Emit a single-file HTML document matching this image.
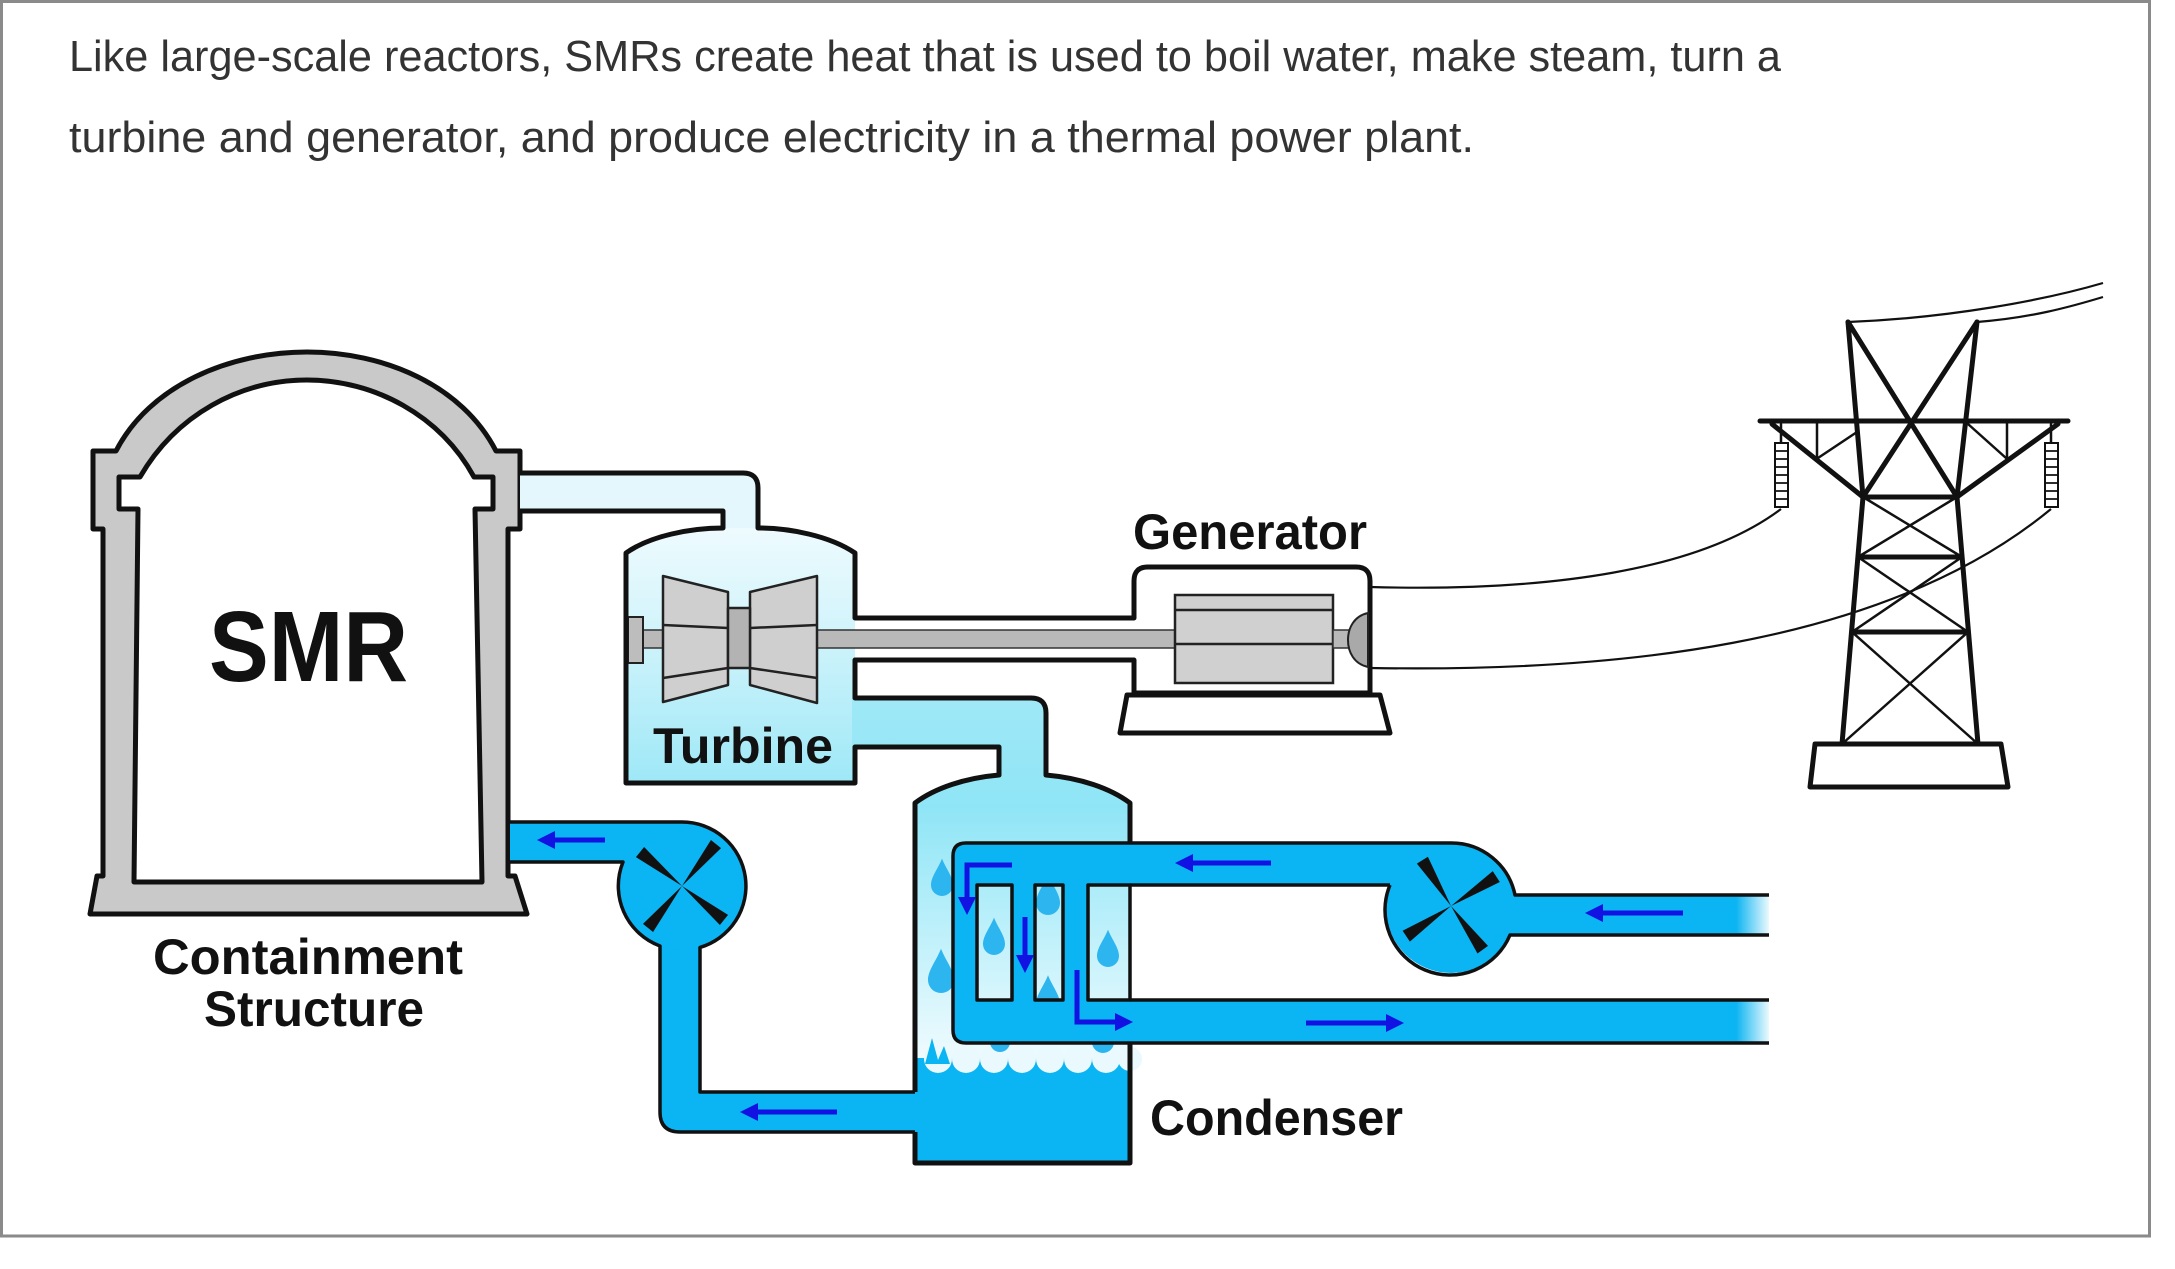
<!DOCTYPE html>
<html>
<head>
<meta charset="utf-8">
<style>
  html, body { margin: 0; padding: 0; background: #ffffff; }
  body { width: 2175px; height: 1269px; overflow: hidden; }
  svg { display: block; }
  .lbl { font-family: "Liberation Sans", "DejaVu Sans", sans-serif; font-weight: bold; fill: #111; }
  .desc { font-family: "Liberation Sans", "DejaVu Sans", sans-serif; font-weight: normal; fill: #333; }
</style>
</head>
<body>
<svg width="2175" height="1269" viewBox="0 0 2175 1269" xmlns="http://www.w3.org/2000/svg">
  <defs>
    <linearGradient id="tg" x1="0" y1="528" x2="0" y2="783" gradientUnits="userSpaceOnUse">
      <stop offset="0" stop-color="#eefbfe"/>
      <stop offset="0.4" stop-color="#d2f4fb"/>
      <stop offset="1" stop-color="#9ee8f7"/>
    </linearGradient>
    <linearGradient id="cg" x1="0" y1="698" x2="0" y2="1062" gradientUnits="userSpaceOnUse">
      <stop offset="0" stop-color="#9fe8f7"/>
      <stop offset="0.3" stop-color="#8fe5f6"/>
      <stop offset="0.6" stop-color="#b8effa"/>
      <stop offset="1" stop-color="#f0fbfe"/>
    </linearGradient>
    <linearGradient id="fade" x1="1736" y1="0" x2="1772" y2="0" gradientUnits="userSpaceOnUse">
      <stop offset="0" stop-color="#ffffff" stop-opacity="0"/>
      <stop offset="1" stop-color="#ffffff" stop-opacity="1"/>
    </linearGradient>
    <path id="drop" d="M0,-2.4 C0.35,-1.5 1,-0.75 1,0 A1 1 0 0 1 -1,0 C-1,-0.75 -0.35,-1.5 0,-2.4 Z"/>
    <path id="blade" d="M0,0 L54,-6.5 L54,6.5 Z"/>
  </defs>

  <rect x="0" y="0" width="2175" height="1269" fill="#ffffff"/>
  <!-- frame -->
  <rect x="1.5" y="1.5" width="2148" height="1234.5" fill="none" stroke="#8a8a8a" stroke-width="3"/>

  <!-- description -->
  <text class="desc" x="69" y="71" font-size="44" textLength="1712" lengthAdjust="spacingAndGlyphs">Like large-scale reactors, SMRs create heat that is used to boil water, make steam, turn a</text>
  <text class="desc" x="69" y="152" font-size="44" textLength="1405" lengthAdjust="spacingAndGlyphs">turbine and generator, and produce electricity in a thermal power plant.</text>

  <!-- ===== Containment ===== -->
  <path d="M93,451 L116,451 C150,385 230,352 307,352 C384,352 462,385 496,451 L520,451 L520,529 L508,529 L508,876 L515,876 L527,914 L90,914 L97,876 L103,876 L103,529 L93,529 Z"
        fill="#c9c9c9" stroke="#111" stroke-width="5" stroke-linejoin="round"/>
  <path d="M138,509 L119,509 L119,477 L140,477 C176,415 240,380 307,380 C374,380 440,415 474,477 L493,477 L493,509 L475,509 L482,882 L134,882 Z"
        fill="#ffffff" stroke="#111" stroke-width="5" stroke-linejoin="round"/>
  <text class="lbl" x="209" y="681" font-size="100" textLength="199" lengthAdjust="spacingAndGlyphs">SMR</text>
  <text class="lbl" x="153" y="974" font-size="50" textLength="310" lengthAdjust="spacingAndGlyphs">Containment</text>
  <text class="lbl" x="204" y="1026" font-size="50" textLength="220" lengthAdjust="spacingAndGlyphs">Structure</text>

  <!-- ===== Steam pipe & turbine casing fills ===== -->
  <path d="M520,473 L743,473 Q758,473 758,488 L758,532 L723,532 L723,511 L520,511 Z" fill="#e3f7fc"/>
  <path d="M626,553 C650,536 690,528 723,528 L758,528 C790,528 830,536 855,553 L855,783 L626,783 Z" fill="url(#tg)"/>
  <!-- pipe turbine->condenser + condenser fill -->
  <path d="M852,698 L1031,698 Q1046,698 1046,713 L1046,775 C1080,778 1110,788 1130,803 L1130,1163 L915,1163 L915,803 C935,788 965,778 999,775 L999,747 L852,747 Z" fill="url(#cg)"/>

  <!-- water in condenser -->
  <rect x="915" y="1058" width="215" height="105" fill="#0bb4f2"/>
  <g fill="#e9f9fd">
    <circle cx="938" cy="1059" r="14"/>
    <circle cx="966" cy="1059" r="14"/>
    <circle cx="994" cy="1059" r="14"/>
    <circle cx="1022" cy="1059" r="14"/>
    <circle cx="1050" cy="1059" r="14"/>
    <circle cx="1078" cy="1059" r="14"/>
    <circle cx="1106" cy="1059" r="14"/>
    <circle cx="1130" cy="1059" r="12"/>
  </g>
  <path d="M925,1064 L932,1038 L938,1060 L944,1046 L950,1064 Z" fill="#0bb4f2"/>

  <!-- drops -->
  <g fill="#2db5ef">
    <use href="#drop" transform="translate(942,885) scale(11)"/>
    <use href="#drop" transform="translate(941,980) scale(13)"/>
    <use href="#drop" transform="translate(994,944) scale(11)"/>
    <use href="#drop" transform="translate(1048,903) scale(12)"/>
    <use href="#drop" transform="translate(1048,1004) scale(12)"/>
    <use href="#drop" transform="translate(1108,956) scale(11)"/>
    <use href="#drop" transform="translate(1000,1042) scale(10)"/>
    <use href="#drop" transform="translate(1103,1042) scale(11)"/>
  </g>

  <!-- ===== Left primary loop (blue) ===== -->
  <path d="M510,822 L682,822 A64 64 0 0 1 700,947.4 L700,1092 L920,1092 L920,1132 L680,1132 Q660,1132 660,1112 L660,946 A64 64 0 0 1 623,862 L510,862 Z" fill="#0bb4f2"/>
  <circle cx="682" cy="886" r="64" fill="#0bb4f2"/>
  <g fill="none" stroke="#111" stroke-width="3.5" stroke-linejoin="round">
    <path d="M510,822 L682,822 A64 64 0 0 1 700,947.4 L700,1092 L915,1092"/>
    <path d="M915,1132 L680,1132 Q660,1132 660,1112 L660,946 A64 64 0 0 1 623,862 L510,862"/>
  </g>
  <g fill="#111">
    <use href="#blade" transform="translate(682,886) rotate(39)"/>
    <use href="#blade" transform="translate(682,886) rotate(129)"/>
    <use href="#blade" transform="translate(682,886) rotate(219)"/>
    <use href="#blade" transform="translate(682,886) rotate(309)"/>
  </g>

  <!-- ===== Cooling loop (right) ===== -->
  <path d="M966,843 L1451,843 L1451,885 L977,885 L977,1000 L1769,1000 L1769,1043 L966,1043 Q953,1043 953,1030 L953,856 Q953,843 966,843 Z" fill="#0bb4f2"/>
  <rect x="1012" y="883" width="23" height="119" fill="#0bb4f2"/>
  <rect x="1063" y="883" width="25" height="119" fill="#0bb4f2"/>
  <rect x="1440" y="895" width="329" height="40" fill="#0bb4f2"/>
  <circle cx="1451" cy="908" r="65" fill="#0bb4f2"/>
  <rect x="1736" y="896.5" width="40" height="37" fill="url(#fade)"/>
  <rect x="1736" y="1001.5" width="40" height="40" fill="url(#fade)"/>
  <g fill="none" stroke="#111" stroke-width="3.5" stroke-linejoin="round">
    <path d="M1451,843 L966,843 Q953,843 953,856 L953,1030 Q953,1043 966,1043 L1769,1043"/>
    <path d="M1130,1000 L1769,1000"/>
    <path d="M1130,885 L1390,885"/>
    <path d="M1451,843 A65 65 0 0 1 1515,895 L1769,895"/>
    <path d="M1769,935 L1510,935 A65 65 0 0 1 1390,885"/>
    <rect x="977" y="885" width="35" height="115"/>
    <rect x="1035" y="885" width="28" height="115"/>
    <rect x="1088" y="885" width="42" height="115"/>
  </g>
  <g fill="#111">
    <use href="#blade" transform="translate(1451,906) rotate(54)"/>
    <use href="#blade" transform="translate(1451,906) rotate(146)"/>
    <use href="#blade" transform="translate(1451,906) rotate(238)"/>
    <use href="#blade" transform="translate(1451,906) rotate(327)"/>
  </g>

  <!-- ===== Arrows ===== -->
  <g stroke="#1212e2" stroke-width="5" fill="none">
    <line x1="605" y1="840" x2="551" y2="840"/>
    <line x1="837" y1="1112" x2="754" y2="1112"/>
    <line x1="1271" y1="863" x2="1189" y2="863"/>
    <line x1="1683" y1="913" x2="1599" y2="913"/>
    <line x1="1306" y1="1023" x2="1390" y2="1023"/>
    <polyline points="1012,865 967,865 967,900"/>
    <line x1="1025" y1="917" x2="1025" y2="958"/>
    <polyline points="1077,970 1077,1022 1118,1022"/>
  </g>
  <g fill="#1212e2">
    <polygon points="537,840 555,831 555,849"/>
    <polygon points="740,1112 758,1103 758,1121"/>
    <polygon points="1175,863 1193,854 1193,872"/>
    <polygon points="1585,913 1603,904 1603,922"/>
    <polygon points="1404,1023 1386,1014 1386,1032"/>
    <polygon points="967,915 958,897 976,897"/>
    <polygon points="1025,973 1016,955 1034,955"/>
    <polygon points="1133,1022 1115,1013 1115,1031"/>
  </g>

  <!-- ===== Turbine internals ===== -->
  <rect x="643" y="630" width="532" height="18" fill="#b9b9b9" stroke="#333" stroke-width="1.5"/>
  <rect x="628" y="617" width="15" height="46" fill="#bdbdbd" stroke="#222" stroke-width="2"/>
  <g fill="#cfcfcf" stroke="#222" stroke-width="2.5" stroke-linejoin="round">
    <polygon points="663,576 728,592 728,685 663,702"/>
    <polygon points="750,592 817,576 817,703 750,685"/>
    <rect x="728" y="608" width="22" height="60" fill="#b3b3b3"/>
  </g>
  <g stroke="#222" stroke-width="2.5">
    <line x1="663" y1="625" x2="728" y2="628"/>
    <line x1="663" y1="678" x2="728" y2="668"/>
    <line x1="750" y1="628" x2="817" y2="625"/>
    <line x1="750" y1="668" x2="817" y2="678"/>
  </g>
  <text class="lbl" x="653" y="763" font-size="50" textLength="180" lengthAdjust="spacingAndGlyphs">Turbine</text>

  <!-- ===== Main outlines ===== -->
  <path d="M520,473 L743,473 Q758,473 758,488 L758,528 C790,528 830,536 855,553 L855,618 L1134,618 L1134,581 Q1134,567 1148,567 L1356,567 Q1370,567 1370,581 L1370,693 L1134,693 L1134,660 L855,660 L855,698 L1031,698 Q1046,698 1046,713 L1046,775 C1080,778 1110,788 1130,803 L1130,843"
        fill="none" stroke="#111" stroke-width="5" stroke-linejoin="round"/>
  <path d="M1130,1043 L1130,1163 L915,1163 L915,1132"
        fill="none" stroke="#111" stroke-width="5" stroke-linejoin="round"/>
  <path d="M915,1092 L915,803 C935,788 965,778 999,775 L999,747 L855,747 L855,783 L626,783 L626,553 C650,536 690,528 723,528 L723,511 L520,511"
        fill="none" stroke="#111" stroke-width="5" stroke-linejoin="round"/>

  <!-- ===== Generator ===== -->
  <polygon points="1127,695 1380,695 1390,733 1120,733" fill="#ffffff" stroke="#111" stroke-width="5" stroke-linejoin="round"/>
  <rect x="1175" y="595" width="158" height="88" fill="#d0d0d0" stroke="#222" stroke-width="2.5"/>
  <line x1="1175" y1="610" x2="1333" y2="610" stroke="#222" stroke-width="2.5"/>
  <line x1="1175" y1="644" x2="1333" y2="644" stroke="#222" stroke-width="2.5"/>
  <rect x="1333" y="630" width="17" height="18" fill="#b9b9b9" stroke="#333" stroke-width="1.5"/>
  <path d="M1368,613 C1354,616 1348,628 1348,640 C1348,652 1354,664 1368,667 Z" fill="#a9a9a9" stroke="#222" stroke-width="2"/>
  <text class="lbl" x="1133" y="549" font-size="50" textLength="234" lengthAdjust="spacingAndGlyphs">Generator</text>

  <text class="lbl" x="1150" y="1135" font-size="50" textLength="253" lengthAdjust="spacingAndGlyphs">Condenser</text>

  <!-- ===== Wires ===== -->
  <g fill="none" stroke="#111" stroke-width="2.2">
    <path d="M1370,587 C1550,592 1700,570 1781,509"/>
    <path d="M1370,668 C1600,672 1880,650 2051,509"/>
    <path d="M1848,322 C1950,318 2045,300 2103,283"/>
    <path d="M1977,322 C2030,318 2070,307 2103,297"/>
  </g>

  <!-- ===== Tower ===== -->
  <g fill="none" stroke="#111" stroke-width="5" stroke-linecap="round" stroke-linejoin="round">
    <path d="M1760,421 L2068,421"/>
    <path d="M1772,424 L1863,497"/>
    <path d="M2058,424 L1957,497"/>
    <path d="M1848,322 L1863,497"/>
    <path d="M1977,322 L1957,497"/>
    <path d="M1848,322 L1957,497"/>
    <path d="M1977,322 L1863,497"/>
    <path d="M1863,497 L1842,744"/>
    <path d="M1957,497 L1978,744"/>
    <path d="M1863,497 L1957,497"/>
    <path d="M1858,557 L1962,557"/>
    <path d="M1852,632 L1968,632"/>
  </g>
  <g fill="none" stroke="#111" stroke-width="2.5" stroke-linecap="round">
    <path d="M1863,497 L1962,557"/>
    <path d="M1957,497 L1858,557"/>
    <path d="M1858,557 L1968,632"/>
    <path d="M1962,557 L1852,632"/>
    <path d="M1852,632 L1978,744"/>
    <path d="M1968,632 L1842,744"/>
    <path d="M1817,421 L1817,457"/>
    <path d="M1818,458 L1857,432"/>
    <path d="M2007,421 L2007,457"/>
    <path d="M2006,458 L1968,424"/>
    <path d="M1781,424 L1781,443"/>
    <path d="M2051,424 L2051,443"/>
  </g>
  <polygon points="1815,744 2001,744 2008,787 1810,787" fill="#ffffff" stroke="#111" stroke-width="5" stroke-linejoin="round"/>
  <!-- insulators -->
  <g fill="#ffffff" stroke="#111" stroke-width="2">
    <rect x="1775" y="443" width="13" height="64"/>
    <rect x="2045" y="443" width="13" height="64"/>
  </g>
  <g stroke="#111" stroke-width="1.8">
    <path d="M1775,451 H1788 M1775,459 H1788 M1775,467 H1788 M1775,475 H1788 M1775,483 H1788 M1775,491 H1788 M1775,499 H1788"/>
    <path d="M2045,451 H2058 M2045,459 H2058 M2045,467 H2058 M2045,475 H2058 M2045,483 H2058 M2045,491 H2058 M2045,499 H2058"/>
  </g>
</svg>
</body>
</html>
